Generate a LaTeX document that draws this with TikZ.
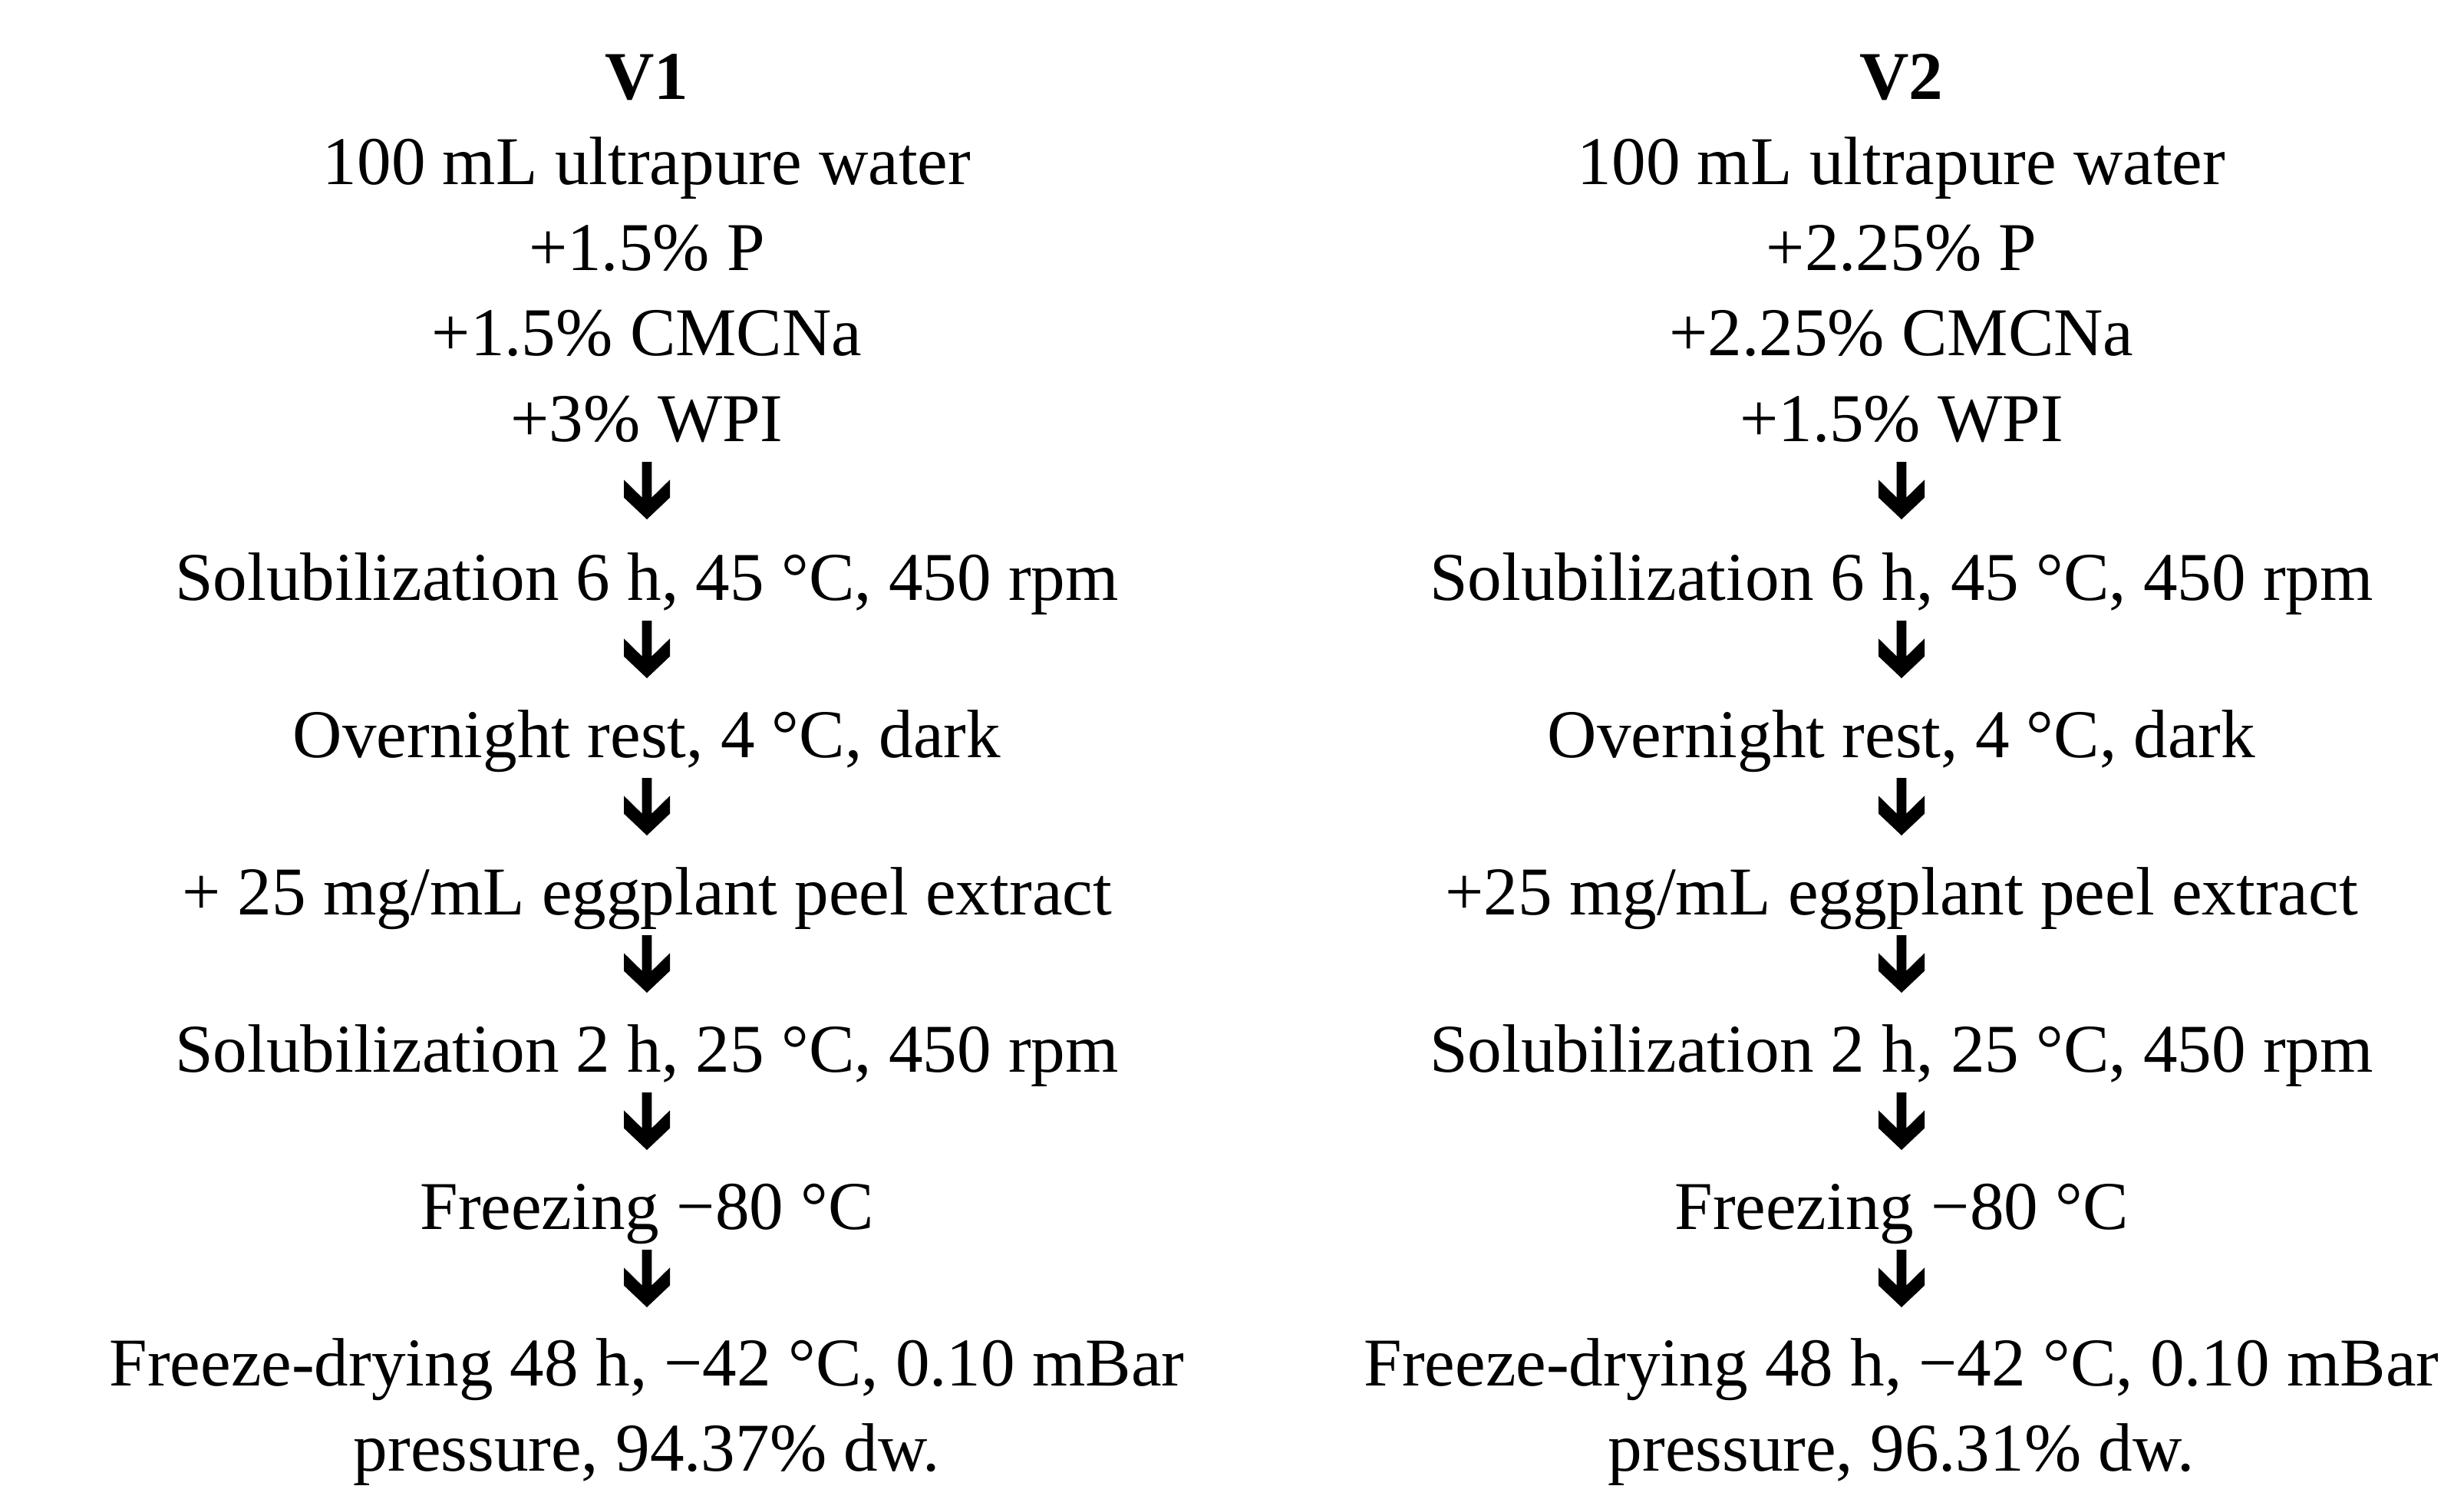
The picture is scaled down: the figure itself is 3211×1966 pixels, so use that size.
\documentclass[tikz,border=0pt]{standalone}
\usepackage{fontspec}
\setmainfont{Liberation Serif}
\usetikzlibrary{calc}
\tikzset{
  txt/.style={anchor=base, inner sep=0pt, font=\fontsize{21.4}{25}\selectfont},
  hdr/.style={txt, font=\fontsize{21.4}{25}\selectfont\bfseries},
  dnarrow/.pic={\fill[black] (-6.3,0) -- (6.3,0) -- (6.3,46.6) -- (30,23.3) -- (30,46.6) -- (0,75) -- (-30,46.6) -- (-30,23.3) -- (-6.3,46.6) -- cycle;}
}
\begin{document}
\begin{tikzpicture}[x=0.24pt,y=-0.24pt]
\useasboundingbox[fill=white] (0,0) rectangle (3211,1966);
% left column
\node[hdr] (l0) at (843,129) {V1};
\node[txt] (l1) at (843,240) {100 mL ultrapure water};
\node[txt] (l2) at (843,352) {+1.5\% P};
\node[txt] (l3) at (843,463) {+1.5\% CMCNa};
\node[txt] (l4) at (843,575) {+3\% WPI};
\node[txt] (l5) at (843,782) {Solubilization 6 h, 45 °C, 450 rpm};
\node[txt] (l6) at (843,987) {Overnight rest, 4 °C, dark};
\node[txt] (l7) at (843,1192) {+ 25 mg/mL eggplant peel extract};
\node[txt] (l8) at (843,1397) {Solubilization 2 h, 25 °C, 450 rpm};
\node[txt] (l9) at (843,1602) {Freezing −80 °C};
\node[txt] (l10) at (843,1806) {Freeze-drying 48 h, −42 °C, 0.10 mBar};
\node[txt] (l11) at (843,1917) {pressure, 94.37\% dw.};
% right column
\node[hdr] (r0) at (2478,129) {V2};
\node[txt] (r1) at (2478,240) {100 mL ultrapure water};
\node[txt] (r2) at (2478,352) {+2.25\% P};
\node[txt] (r3) at (2478,463) {+2.25\% CMCNa};
\node[txt] (r4) at (2478,575) {+1.5\% WPI};
\node[txt] (r5) at (2478,782) {Solubilization 6 h, 45 °C, 450 rpm};
\node[txt] (r6) at (2478,987) {Overnight rest, 4 °C, dark};
\node[txt] (r7) at (2478,1192) {+25 mg/mL eggplant peel extract};
\node[txt] (r8) at (2478,1397) {Solubilization 2 h, 25 °C, 450 rpm};
\node[txt] (r9) at (2478,1602) {Freezing −80 °C};
\node[txt] (r10) at (2478,1806) {Freeze-drying 48 h, −42 °C, 0.10 mBar};
\node[txt] (r11) at (2478,1917) {pressure, 96.31\% dw.};
% arrows
\foreach \c in {l,r}{
  \foreach \i in {4,5,6,7,8,9}{
    \pic at ($(\c\i.base)+(0,27)$) {dnarrow};
  }
}
\end{tikzpicture}
\end{document}
